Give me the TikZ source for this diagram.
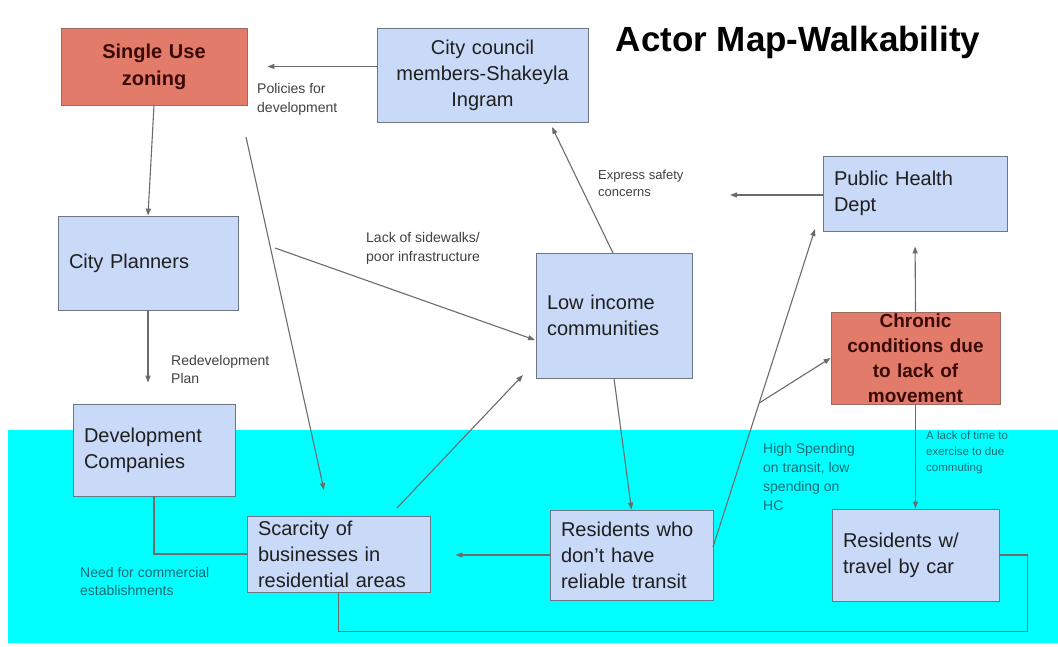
\documentclass[tikz,border=0pt]{standalone}
\usepackage{fontspec}
\setmainfont{Liberation Sans}
\usetikzlibrary{arrows.meta,calc}
\definecolor{boxblue}{HTML}{C9DAF8}
\definecolor{boxline}{HTML}{6E7788}
\definecolor{salmonfill}{HTML}{E27B69}
\definecolor{salline}{HTML}{9A6A60}
\definecolor{darkredtxt}{HTML}{3A0A06}
\definecolor{bandcyan}{HTML}{00FFFF}
\definecolor{conn}{HTML}{6B6B6B}
\definecolor{labteal}{HTML}{1C6B73}
\begin{document}
\begin{tikzpicture}[x=1pt,y=-1pt,
  bluebox/.style={draw=boxline, line width=0.8pt, fill=boxblue, inner xsep=11pt, inner ysep=0pt, align=left, text=black!88, font=\fontsize{20}{26}\selectfont},
  redbox/.style={draw=salline, line width=0.8pt, fill=salmonfill, inner xsep=4pt, inner ysep=0pt, align=center, text=darkredtxt, font=\bfseries\fontsize{19}{25}\selectfont},
  lbl/.style={anchor=north west, inner sep=0pt, align=left, text=black!75, font=\fontsize{14}{19}\selectfont},
  ar/.style={draw=conn, line width=1.1pt, -{Triangle[length=7pt,width=5pt]}},
  ln/.style={draw=conn, line width=1.1pt}]
\useasboundingbox (0,0) rectangle (1058,646);
% cyan band
\fill[bandcyan] (8,430) rectangle (1058,643);
% title
\node[inner sep=0pt, font=\bfseries\fontsize{35}{40}\selectfont] (title) at (798,42) {Actor Map-Walkability};
% boxes
\node[redbox, text width=178pt, minimum height=77pt, font=\bfseries\fontsize{20}{27}\selectfont] (suz) at (154,66.5) {Single Use\\zoning};
\node[bluebox, align=center, text width=189pt, minimum height=94pt] (cc) at (482.5,75) {City council\\members-Shakeyla\\Ingram};
\node[bluebox, text width=162pt, minimum height=75pt] (phd) at (915,193.5) {Public Health\\Dept};
\node[bluebox, text width=158pt, minimum height=94pt] (cp) at (148,263) {City Planners};
\node[bluebox, text width=134pt, minimum height=125pt] (lic) at (614,315.5) {Low income\\communities};
\node[redbox, text width=161pt, minimum height=92pt] (ccc) at (915.5,358) {Chronic\\conditions due\\to lack of\\movement};
\node[bluebox, text width=140pt, minimum height=92pt] (dc) at (154,450) {Development\\Companies};
\node[bluebox, text width=161pt, minimum height=76pt] (sc) at (338.5,554) {Scarcity of\\businesses in\\residential areas};
\node[bluebox, text width=141pt, minimum height=90pt] (rt) at (631.5,555) {Residents who\\don’t have\\reliable transit};
\node[bluebox, text width=145pt, minimum height=92pt] (rc) at (915.5,555) {Residents w/\\travel by car};
% labels
\node[lbl] (pol) at (257,83) {Policies for\\development};
\node[lbl, font=\fontsize{13}{17}\selectfont] (exp) at (598,170) {Express safety\\concerns};
\node[lbl] (lack) at (366,232) {Lack of sidewalks/\\poor infrastructure};
\node[lbl, font=\fontsize{14}{18}\selectfont] (redev) at (171,355) {Redevelopment\\Plan};
\node[lbl, text=labteal] (high) at (763,443) {High Spending\\on transit, low\\spending on\\HC};
\node[lbl, text=labteal, font=\fontsize{11.5}{16}\selectfont] (alack) at (926,431) {A lack of time to\\exercise to due\\commuting};
\node[lbl, text=labteal, font=\fontsize{14}{18}\selectfont] (need) at (80,567) {Need for commercial\\establishments};
% free coordinates
\coordinate (a4) at (246,137);
\coordinate (b4) at (324,490);
\coordinate (a5) at (275,248);
\coordinate (b5) at (535,340);
\coordinate (a6) at (397,508);
\coordinate (b6) at (523,375);
\coordinate (a7) at (613,253);
\coordinate (b7) at (552,127);
\coordinate (b8) at (730,195);
\coordinate (a11) at (713,547);
\coordinate (b11) at (815,229);
\coordinate (br) at ($(a11)!0.4528!(b11)$);
% connectors
\draw[ar, shorten >=20pt] (cc.west |- suz.east) -- (suz.east);
\draw[ar] (suz.south) -- (cp.north);
\draw[ar, shorten >=21pt] (cp.south) -- (cp.south |- dc.north);
\draw[ar] (a4) -- (b4);
\draw[ar] (a5) -- (b5);
\draw[ar] (a6) -- (b6);
\draw[ar] (a7) -- (b7);
\draw[ar] (phd.west |- b8) -- (b8);
\draw[ar] (lic.south) -- (rt.north);
\draw[ar, shorten >=25pt] (rt.west) -- (rt.west -| sc.east);
\draw[ar] (a11) -- (b11);
\draw[ar] (br) -- (ccc.west);
\draw[ar, shorten >=15pt] (ccc.north) -- (phd.south);
\draw[ar] (ccc.south) -- (rc.north);
\draw[ln] (dc.south) |- (sc.west);
\draw[ln] (sc.south) -- ++(0,39) -| ($(rc.east)+(28,0)$) -- (rc.east);
\end{tikzpicture}
\end{document}
